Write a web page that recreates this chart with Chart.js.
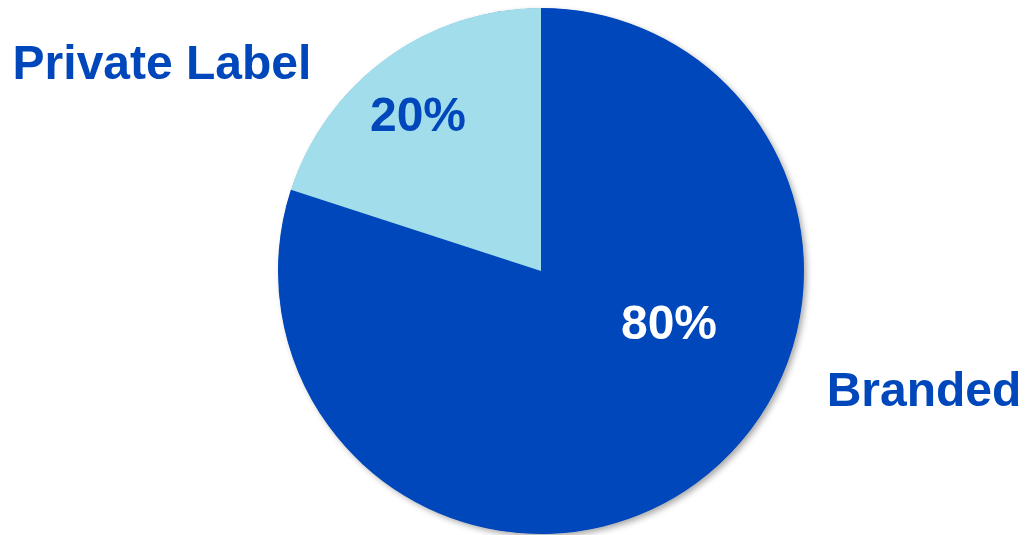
<!DOCTYPE html>
<html>
<head>
<meta charset="utf-8">
<script src="https://cdn.jsdelivr.net/npm/chart.js@4/dist/chart.umd.min.js"></script>
<style>
  html, body { margin: 0; padding: 0; background: #fff; }
  #wrap { width: 1025px; height: 535px; position: relative; }
</style>
</head>
<body>
<div id="wrap"><canvas id="pie"></canvas></div>
<script>
const categories = ["Branded", "Private Label"];
const shares = [80, 20];
const sliceColors = ["#0047BB", "#A2DDEB"];
const pctColors = ["#ffffff", "#0047BB"];

// where the text goes
const outerLabels = [
    { x: 924, y: 406 },
    { x: 162, y: 79 }
];
const pctSpots = [
    { x: 669, y: 326 },
    { x: 418, y: 118 }
];

// one soft shadow behind the whole pie, not per slice
const shadowPlugin = {
    id: "shadow",
    beforeDatasetsDraw(chart) {
        const arc = chart.getDatasetMeta(0).data[0];
        if (!arc) return;
        const c = chart.ctx;
        c.save();
        c.shadowColor = "rgba(0,0,0,0.35)";
        c.shadowBlur = 6;
        c.shadowOffsetX = 3;
        c.shadowOffsetY = 3;
        c.fillStyle = sliceColors[0];
        c.beginPath();
        c.arc(arc.x, arc.y, arc.outerRadius - 0.5, 0, Math.PI * 2);
        c.fill();
        c.restore();
    }
};

const labelPlugin = {
    id: "labels",
    afterDraw(chart) {
        const c = chart.ctx;
        c.save();
        c.font = "bold 48px 'Liberation Sans', Arial, sans-serif";
        c.textAlign = "center";
        c.textBaseline = "middle";
        shares.forEach((v, i) => {
            c.fillStyle = pctColors[i];
            c.fillText(v + "%", pctSpots[i].x, pctSpots[i].y);
        });
        c.textBaseline = "alphabetic";
        c.fillStyle = "#0047BB";
        categories.forEach((name, i) => {
            c.fillText(name, outerLabels[i].x, outerLabels[i].y);
        });
        c.restore();
    }
};

new Chart(document.getElementById("pie"), {
    type: "pie",
    data: {
        labels: categories,
        datasets: [{
            data: shares,
            backgroundColor: sliceColors,
            borderWidth: 0
        }]
    },
    options: {
        responsive: true,
        maintainAspectRatio: false,
        animation: false,
        layout: { padding: { left: 278, right: 221, top: 8, bottom: 1 } },
        plugins: {
            legend: { display: false },
            tooltip: { enabled: false }
        }
    },
    plugins: [shadowPlugin, labelPlugin]
});
</script>
</body>
</html>
